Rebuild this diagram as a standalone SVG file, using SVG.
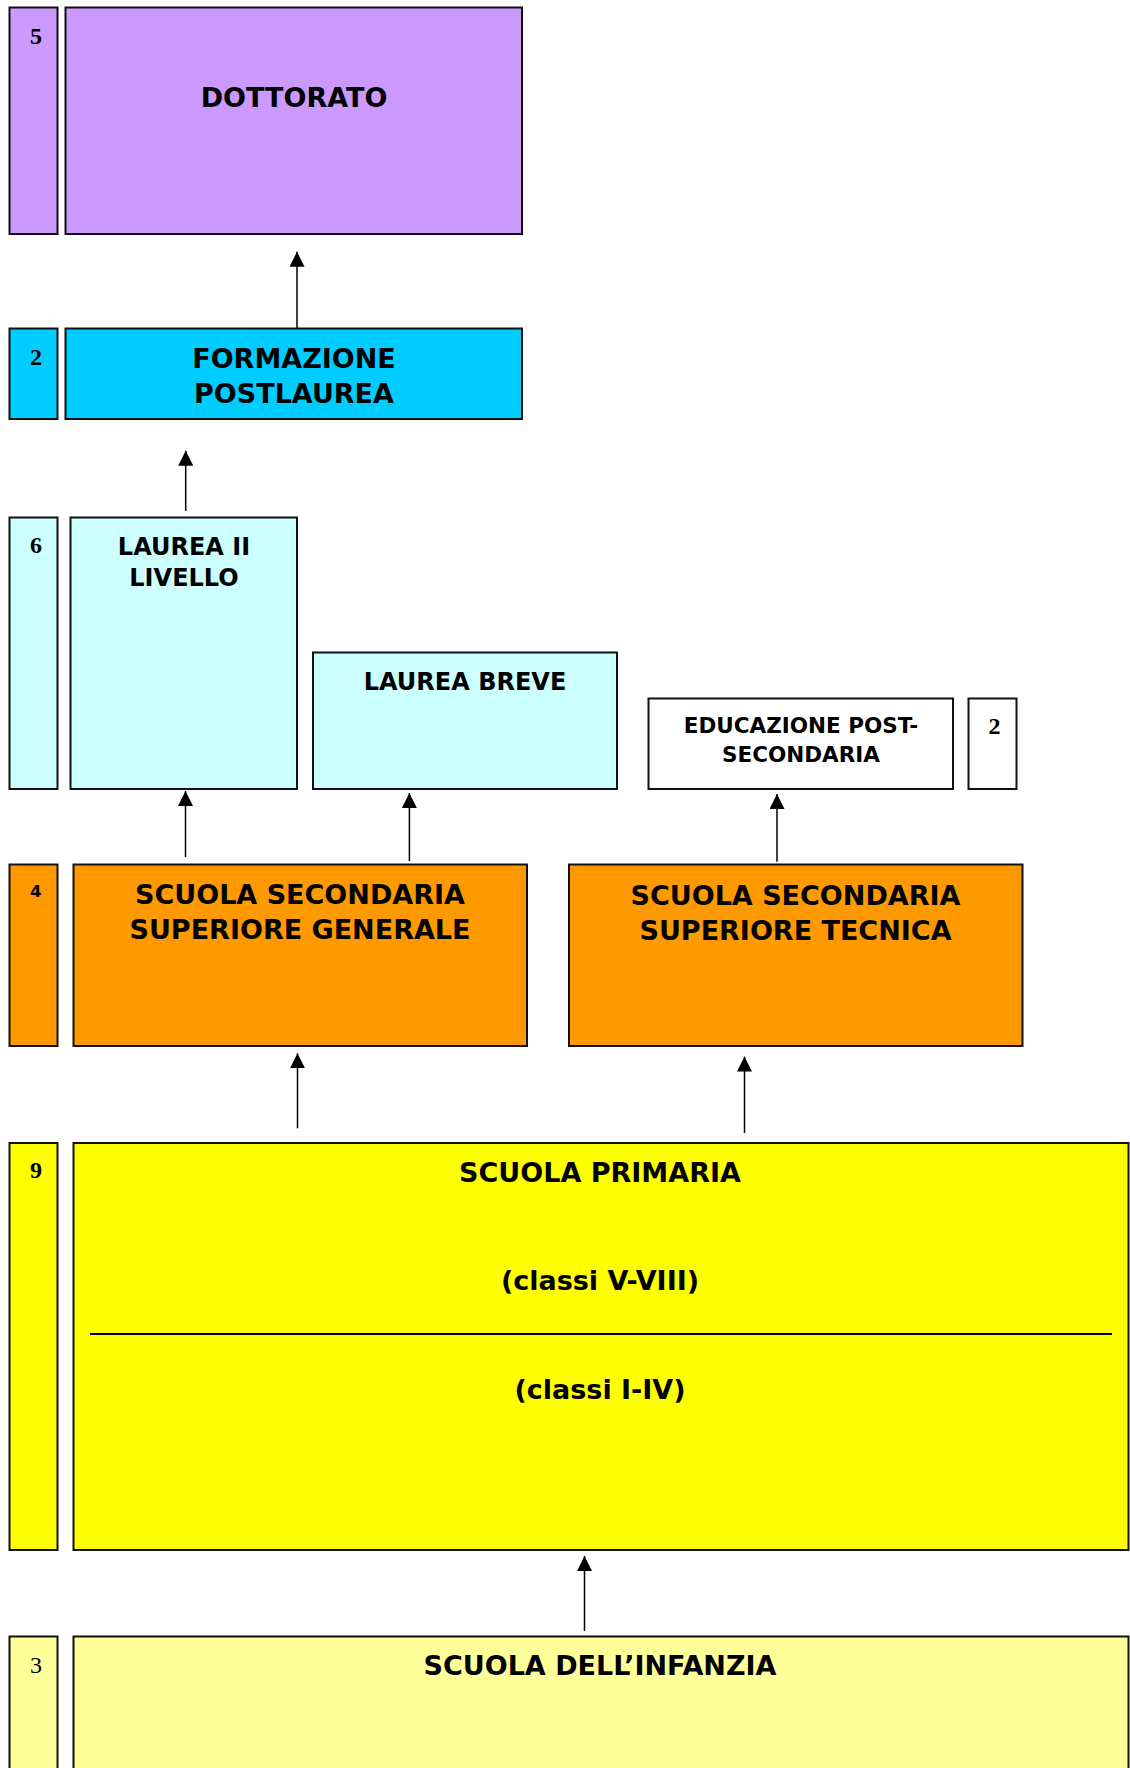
<svg xmlns="http://www.w3.org/2000/svg" width="1130" height="1768" viewBox="0 0 1130 1768">
<style>
.box{stroke:#111;stroke-width:2}
.t{font-family:"DejaVu Sans",Verdana,sans-serif;font-weight:bold;font-size:27px;fill:#000;text-anchor:middle}
.t24{font-size:24px}
.t22{font-size:21.5px}
.n{font-family:"Liberation Serif","Times New Roman",serif;font-weight:bold;font-size:24px;fill:#000;text-anchor:middle}
.nr{font-weight:normal}
.ns{font-family:"DejaVu Sans",sans-serif;font-weight:bold;font-size:16.5px}
.arr{stroke:#000;stroke-width:1.5;fill:none;marker-end:url(#ah)}
.purple{fill:#CC99FF}.cyan{fill:#00CCFF}.lcyan{fill:#CCFFFF}.white{fill:#FFFFFF}.orange{fill:#FF9900}.yellow{fill:#FFFF00}.lyellow{fill:#FFFF99}
</style>
<defs>
<marker id="ah" viewBox="0 0 10 10" refX="10" refY="5" markerUnits="userSpaceOnUse" markerWidth="15" markerHeight="15" orient="auto">
<path d="M0,0 L10,5 L0,10 z" fill="#000"/>
</marker>
</defs>
<rect width="1130" height="1768" fill="#fff"/>

<g id="years-dottorato"><rect class="box purple" x="9.5" y="7.5" width="48" height="226.5"/><text class="n" x="36" y="44">5</text></g>
<g id="dottorato"><rect class="box purple" x="65.5" y="7.5" width="456.5" height="226.5"/><text class="t" x="294" y="107">DOTTORATO</text></g>

<g id="years-formazione"><rect class="box cyan" x="9.5" y="328.5" width="48" height="90.5"/><text class="n" x="36" y="365">2</text></g>
<g id="formazione"><rect class="box cyan" x="65.5" y="328.5" width="456.5" height="90.5"/><text class="t" x="294" y="367.5">FORMAZIONE</text><text class="t" x="294" y="403.3">POSTLAUREA</text></g>

<g id="years-laurea"><rect class="box lcyan" x="9.5" y="517.5" width="48" height="271.5"/><text class="n" x="36" y="553.3">6</text></g>
<g id="laurea-ii"><rect class="box lcyan" x="70.5" y="517.5" width="226.5" height="271.5"/><text class="t t24" x="184" y="555">LAUREA II</text><text class="t t24" x="184" y="586">LIVELLO</text></g>
<g id="laurea-breve"><rect class="box lcyan" x="313" y="652.5" width="304" height="136.5"/><text class="t t24" x="465" y="690">LAUREA BREVE</text></g>

<g id="educazione-post"><rect class="box white" x="648.5" y="698.5" width="304.5" height="90.5"/><text class="t t22" x="801" y="732.7">EDUCAZIONE POST-</text><text class="t t22" x="801" y="761.7">SECONDARIA</text></g>
<g id="years-educazione"><rect class="box white" x="968.5" y="698.5" width="48" height="90.5"/><text class="n" x="994.5" y="734.3">2</text></g>

<g id="years-secondaria"><rect class="box orange" x="9.5" y="864.5" width="48" height="181.5"/><text class="n ns" x="35.8" y="896.7">4</text></g>
<g id="secondaria-generale"><rect class="box orange" x="73.5" y="864.5" width="453.5" height="181.5"/><text class="t" x="300" y="904">SCUOLA SECONDARIA</text><text class="t" x="300" y="939.3">SUPERIORE GENERALE</text></g>
<g id="secondaria-tecnica"><rect class="box orange" x="569" y="864.5" width="453.5" height="181.5"/><text class="t" x="795.5" y="905">SCUOLA SECONDARIA</text><text class="t" x="795.5" y="940">SUPERIORE TECNICA</text></g>

<g id="years-primaria"><rect class="box yellow" x="9.5" y="1143" width="48" height="407"/><text class="n" x="36" y="1177.7">9</text></g>
<g id="primaria"><rect class="box yellow" x="73.5" y="1143" width="1055" height="407"/><text class="t" x="600" y="1182">SCUOLA PRIMARIA</text><text class="t" x="600" y="1289.5">(classi V-VIII)</text><line x1="90" y1="1334" x2="1112" y2="1334" stroke="#000" stroke-width="2"/><text class="t" x="600" y="1399">(classi I-IV)</text></g>

<g id="years-infanzia"><rect class="box lyellow" x="9.5" y="1636.5" width="48" height="140"/><text class="n nr" x="36" y="1672.7">3</text></g>
<g id="infanzia"><rect class="box lyellow" x="73.5" y="1636.5" width="1055" height="140"/><text class="t" x="600" y="1675">SCUOLA DELL’INFANZIA</text></g>

<g id="connectors">
<line class="arr" x1="297" y1="328" x2="297" y2="251.7"/>
<line class="arr" x1="185.7" y1="511" x2="185.7" y2="450.7"/>
<line class="arr" x1="185.5" y1="857" x2="185.5" y2="791"/>
<line class="arr" x1="409.4" y1="861" x2="409.4" y2="793"/>
<line class="arr" x1="777" y1="861.7" x2="777" y2="794"/>
<line class="arr" x1="297.5" y1="1128.3" x2="297.5" y2="1053.3"/>
<line class="arr" x1="744.5" y1="1133" x2="744.5" y2="1056.6"/>
<line class="arr" x1="584.5" y1="1631" x2="584.5" y2="1556"/>
</g>
</svg>
